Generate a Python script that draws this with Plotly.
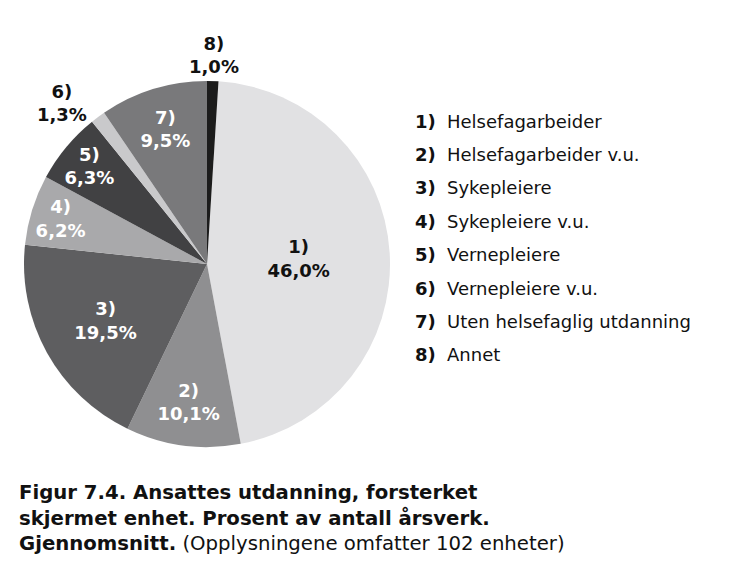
import math
import plotly.graph_objects as go

slice_ids = ["1)", "2)", "3)", "4)", "5)", "6)", "7)", "8)"]
categories = ["Helsefagarbeider", "Helsefagarbeider v.u.", "Sykepleiere", "Sykepleiere v.u.",
              "Vernepleiere", "Vernepleiere v.u.", "Uten helsefaglig utdanning", "Annet"]
values = [46.0, 10.1, 19.5, 6.2, 6.3, 1.3, 9.5, 1.0]
colors = ["#e1e1e3", "#8f8f91", "#5e5e60", "#a9a9ab", "#414143", "#c9c9cb", "#79797b", "#1c1c1c"]
text_colors = ["#111111", "white", "white", "white", "white", "#111111", "white", "#111111"]
text_pos = ["inside", "inside", "inside", "inside", "inside", "outside", "inside", "none"]

W, H = 741, 572
FONT = "DejaVu Sans, Verdana, sans-serif"
ROT = 3.6
# pie geometry in pixels
CX, CY, R = 207, 264, 183

fig = go.Figure()
fig.add_trace(go.Pie(
    labels=slice_ids,
    values=values,
    sort=False,
    direction="clockwise",
    rotation=ROT,
    marker=dict(colors=colors, line=dict(width=0)),
    texttemplate="<b>%{label}<br>%{value:.1f}%</b>",
    textposition=text_pos,
    insidetextorientation="horizontal",
    textfont=dict(family=FONT, size=18, color=text_colors),
    outsidetextfont=dict(family=FONT, size=18, color="#111111"),
    hoverinfo="label+value",
    showlegend=False,
    domain=dict(x=[(CX - R) / W, (CX + R) / W], y=[(H - CY - R) / H, (H - CY + R) / H]),
))

# outside label for the last (thin) slice, centred above its mid-angle
total = sum(values)
before = sum(values[:-1])
mid = math.radians(ROT + 360 * (before + values[-1] / 2) / total)
lr = R + 26
lx = CX + lr * math.sin(mid)
ly = CY - lr * math.cos(mid)
fig.add_annotation(x=lx / W, y=1 - ly / H, xref="paper", yref="paper",
                   xanchor="center", yanchor="middle", showarrow=False,
                   text="<b>" + slice_ids[-1] + "<br>" + f"{values[-1]:.1f}".replace(".", ",") + "%</b>",
                   font=dict(family=FONT, size=18, color="#111111"))

legend_y0 = 121
legend_dy = 33.4
for i, (sid, cat) in enumerate(zip(slice_ids, categories)):
    y = 1 - (legend_y0 + i * legend_dy) / H
    fig.add_annotation(x=413 / W, y=y, xref="paper", yref="paper", xanchor="left", yanchor="middle",
                       text="<b>" + sid + "</b>", showarrow=False,
                       font=dict(family=FONT, size=18, color="#111111"))
    fig.add_annotation(x=445 / W, y=y, xref="paper", yref="paper", xanchor="left", yanchor="middle",
                       text=cat, showarrow=False,
                       font=dict(family=FONT, size=18, color="#111111"))

caption = ("<b>Figur 7.4. Ansattes utdanning, forsterket</b><br>"
           "<b>skjermet enhet. Prosent av antall årsverk.</b><br>"
           "<b>Gjennomsnitt.</b> (Opplysningene omfatter 102 enheter)")
fig.add_annotation(x=17 / W, y=1 - 479 / H, xref="paper", yref="paper", xanchor="left", yanchor="top",
                   text=caption, showarrow=False, align="left",
                   font=dict(family=FONT, size=19.7, color="#111111"))

fig.update_layout(
    width=W, height=H,
    margin=dict(l=0, r=0, t=0, b=0),
    paper_bgcolor="white", plot_bgcolor="white",
    separators=",.",
    uniformtext=dict(minsize=18, mode="show"),
)

fig.write_html("out.html")
